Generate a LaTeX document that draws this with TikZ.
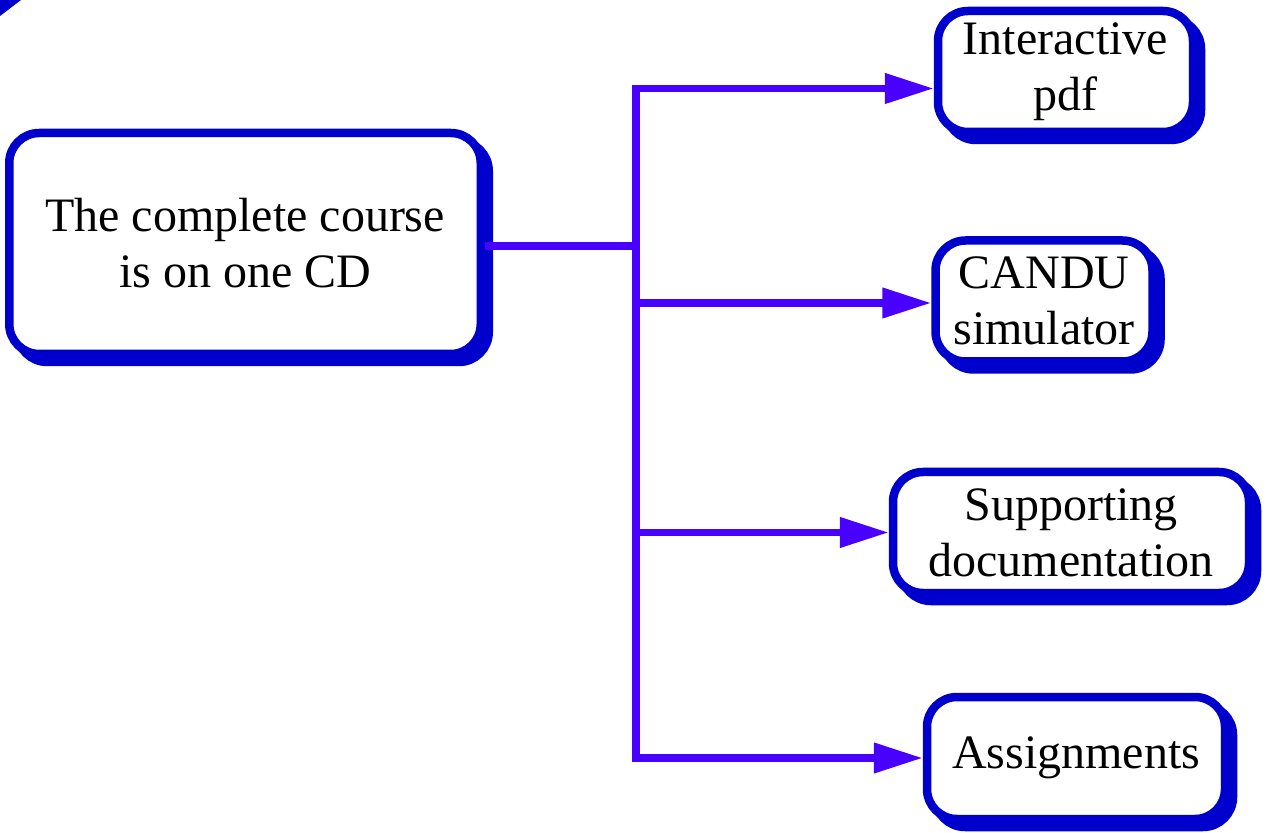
\documentclass[tikz,border=0pt]{standalone}
\usepackage{fontspec}
\setmainfont{Liberation Serif}
\usetikzlibrary{arrows.meta, positioning}
\definecolor{boxblue}{RGB}{0,0,204}
\definecolor{linkviolet}{RGB}{72,0,255}

\begin{document}
\begin{tikzpicture}[
    x=0.5pt, y=-0.5pt,
    cdbox/.style={rectangle, rounded corners=15pt, draw=boxblue, line width=4.25pt, fill=white, align=center, inner sep=0pt, font=\fontsize{24}{28}\selectfont,
        preaction={draw=boxblue, fill=boxblue, line width=4.25pt, transform canvas={shift={(4pt,-4pt)}}}},
    link/.style={draw=linkviolet, line width=3.75pt},
    arrow/.style={link, -{Triangle[length=24.5pt, width=14.5pt]}}
]
\useasboundingbox (0,0) rectangle (1268,833);

% corner fragment
\fill[boxblue] (0,0) -- (21,0) -- (0,16) -- cycle;

% Nodes
\node (course) [cdbox, minimum width=235.75pt, minimum height=110.5pt] at (245,243.5) {The complete course\\is on one CD};
\node (pdf) [cdbox, minimum width=127.5pt, minimum height=60.5pt] at (1065.5,71.5) {Interactive\\pdf};
\node (sim) [cdbox, minimum width=108.5pt, minimum height=60.5pt] at (1044,301) {CANDU\\simulator};
\node (docs) [cdbox, minimum width=178pt, minimum height=60.5pt] at (1071,532.5) {Supporting\\documentation};
\node (tasks) [cdbox, minimum width=149pt, minimum height=61pt] at (1076,758) {Assignments};
\coordinate (hub) at (636,246);

% Arrows
\draw [link] ([yshift=-1.25pt]course.east) -- (hub);
\draw [arrow] (hub) |- ([yshift=-8.5pt]pdf.west);
\draw [arrow] (hub) |- ([yshift=-1pt]sim.west);
\draw [arrow] (hub) |- (docs.west);
\draw [arrow] (hub) |- (tasks.west);

\end{tikzpicture}
\end{document}
